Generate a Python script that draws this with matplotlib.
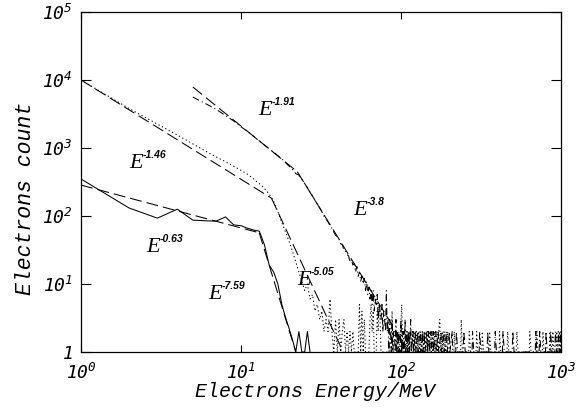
import matplotlib
matplotlib.use("Agg")
import matplotlib.pyplot as plt
from matplotlib.ticker import NullLocator

# --- low energy spectrum (solid) ---
solid_e = [1, 2, 3, 4, 5, 6, 7, 8, 9, 10, 11, 12, 13, 14, 15, 16, 17, 18, 19, 20,
           21, 22, 23, 24, 25, 26, 27]
solid_c = [350, 131, 93, 126, 87, 85, 84, 97, 74, 72, 66, 62, 60, 38, 19, 15, 10, 5, 3.2, 2.2,
           1.5, 1, 2, 1, 1, 2, 1]

# --- middle spectrum (dotted) ---
dotted_e = list(range(1, 61))
dotted_c = [10000, 3800, 2250, 1550, 1150, 900, 740, 630, 540, 470,
            410, 350, 300, 255, 210, 165, 115, 80, 58, 42,
            30, 21, 15, 11, 8, 10, 6, 7, 4, 5,
            3, 4, 2, 3, 2, 6, 2, 1, 3, 1,
            3, 1, 2, 3, 1, 2, 1, 2, 1, 2,
            1, 1, 1, 1, 5, 1, 4, 1, 3, 1]
dotted_tail_e = [61, 63, 64, 65, 66, 67, 68, 70, 71, 72, 73, 74, 75,
                 85, 87, 88, 89, 98, 100, 101, 102, 103,
                 108, 109, 110, 111, 112, 114, 115, 116, 118, 119, 121, 122,
                 125, 126, 128, 129, 130, 133, 134, 137, 138, 141, 142, 143,
                 146, 147, 151, 152, 156, 157, 158, 162, 163, 168, 169,
                 174, 175, 176, 181, 182, 188, 189, 196, 197,
                 214, 215, 219, 236, 238, 242, 265, 267, 272, 295, 297, 302,
                 320, 322, 328, 355, 358, 364, 410, 413, 420, 460, 464, 472,
                 525, 530, 539, 633, 639, 650, 700, 706, 718, 765, 771, 784,
                 845, 851, 866, 883, 889, 904, 935, 941, 957, 972, 979, 995, 1000]
dotted_tail_c = [1, 1, 3, 5, 2, 4, 1, 1, 4, 2, 5, 3, 1,
                 1, 2, 4, 1, 1, 3, 5, 2, 1,
                 1, 2, 1, 2, 1, 2, 2, 1, 2, 1, 2, 1,
                 2, 1, 2, 2, 1, 2, 1, 2, 1, 2, 2, 1,
                 2, 1, 2, 1, 2, 2, 1, 2, 1, 2, 1,
                 3, 3, 1, 2, 1, 2, 1, 2, 1,
                 1, 2, 1, 1, 3, 1, 1, 2, 1, 1, 2, 1,
                 1, 2, 1, 1, 2, 1, 1, 2, 1, 1, 2, 1,
                 1, 2, 1, 1, 2, 1, 1, 2, 1, 1, 2, 1,
                 1, 2, 1, 1, 2, 1, 1, 2, 1, 1, 2, 1, 1]

# --- high energy spectrum (dash-dot) ---
dashdot_e = list(range(5, 103))
dashdot_c = [5600, 4500, 3700, 3000, 2500, 2050, 1750, 1480, 1270, 1110,
             980, 870, 770, 690, 610, 540, 480, 420, 400, 345,
             300, 262, 225, 196, 170, 150, 132, 116, 100, 90,
             82, 72, 66, 58, 52, 50, 46, 39, 38, 31,
             30, 27, 26, 21, 23, 19, 20, 15, 18, 13,
             15, 11, 13, 10, 12, 8, 11, 7, 9, 6,
             8, 5, 8, 4, 6, 5, 7, 3, 5, 4,
             3, 5, 2, 4, 3, 2, 8, 2, 3, 1,
             3, 2, 1, 3, 1, 2, 2, 1, 3, 1,
             2, 1, 2, 1, 1, 3, 1, 2]
dashdot_tail_e = [103, 104, 105, 106, 107, 109, 110, 112, 113, 115, 116, 119, 120,
                  123, 124, 127, 128, 131, 132, 133, 136, 137, 140, 141, 145, 146,
                  149, 150, 154, 155, 159, 160, 165, 166, 171, 172, 178, 179,
                  185, 186, 193, 194, 201, 202, 209, 210,
                  220, 222, 226, 245, 247, 252, 278, 280, 285, 308, 310, 316,
                  345, 348, 354, 385, 388, 395, 430, 434, 442, 495, 500, 509,
                  690, 696, 706, 730, 736, 748, 800, 806, 820, 855, 862, 877,
                  915, 922, 938, 955, 962, 978, 985, 992, 1000]
dashdot_tail_c = [1, 2, 1, 3, 1, 2, 1, 2, 1, 3, 1, 2, 1,
                  2, 1, 2, 1, 2, 2, 1, 2, 1, 2, 1, 2, 1,
                  2, 1, 2, 1, 2, 1, 2, 1, 2, 1, 2, 1,
                  2, 1, 2, 1, 2, 1, 2, 1,
                  1, 2, 1, 1, 2, 1, 1, 2, 1, 1, 2, 1,
                  1, 2, 1, 1, 2, 1, 1, 2, 1, 1, 2, 1,
                  1, 2, 1, 1, 2, 1, 1, 2, 1, 1, 2, 1,
                  1, 2, 1, 1, 2, 1, 1, 2, 1]

# --- power law fits (end points of each segment) ---
fit_segments = [
    ([1, 13], [285, 56.6]),       # E^-0.63
    ([13, 22], [56.6, 1.0]),      # E^-7.59
    ([1, 15.5], [10000, 183]),    # E^-1.46
    ([15.5, 43.5], [183, 1.0]),   # E^-5.05
    ([5, 22.5], [7890, 447]),     # E^-1.91
    ([22.5, 112], [447, 1.0]),    # E^-3.8
]

# labels: exponent, axes-fraction position of the "E"
label_text = ["-1.91", "-1.46", "-0.63", "-7.59", "-5.05", "-3.8"]
label_x = [0.369, 0.100, 0.135, 0.265, 0.450, 0.567]
label_y = [0.697, 0.541, 0.294, 0.156, 0.197, 0.403]

x_ticks = [1, 10, 100, 1000]
x_tick_labels = [r"$10^{0}$", r"$10^{1}$", r"$10^{2}$", r"$10^{3}$"]
y_ticks = [1, 10, 100, 1000, 10000, 100000]
y_tick_labels = [r"$1$", r"$10^{1}$", r"$10^{2}$", r"$10^{3}$", r"$10^{4}$", r"$10^{5}$"]

plt.rcParams["lines.scale_dashes"] = False
plt.rcParams["mathtext.fontset"] = "custom"
plt.rcParams["mathtext.rm"] = "DejaVu Sans Mono:italic"
plt.rcParams["mathtext.it"] = "DejaVu Sans Mono:italic"

fig = plt.figure(figsize=(5.78, 4.11), dpi=100)
ax = fig.add_axes([81 / 578, 59 / 411, 480 / 578, 340 / 411])
ax.set_xscale("log")
ax.set_yscale("log")

lw = 0.75
ax.plot(solid_e, solid_c, color="black", lw=lw)
ax.plot(dotted_e + dotted_tail_e, dotted_c + dotted_tail_c, color="black", lw=lw,
        linestyle=(0, (0.9, 1.9)))
ax.plot(dashdot_e + dashdot_tail_e, dashdot_c + dashdot_tail_c, color="black", lw=lw,
        linestyle=(0, (5, 2.2, 0.8, 2.2)))
for fe, fc in fit_segments:
    ax.plot(fe, fc, color="black", lw=lw, linestyle=(0, (8.6, 3.6)))

for txt, lx, ly in zip(label_text, label_x, label_y):
    ax.text(lx, ly, "E", transform=ax.transAxes, fontsize=16,
            family="Liberation Serif", style="italic", ha="left", va="baseline")
    ax.annotate(txt, xy=(lx, ly), xycoords="axes fraction", xytext=(10, 13),
                textcoords="offset points", fontsize=7.5, family="Liberation Sans",
                weight="bold", style="italic", ha="left", va="top")

ax.set_xlim(1, 1000)
ax.set_ylim(1, 100000)
ax.set_xticks(x_ticks)
ax.set_xticklabels(x_tick_labels, fontsize=13)
ax.set_yticks(y_ticks)
ax.set_yticklabels(y_tick_labels, fontsize=13)
ax.xaxis.set_minor_locator(NullLocator())
ax.yaxis.set_minor_locator(NullLocator())
ax.tick_params(axis="x", direction="in", top=True, length=4.9, width=0.8, pad=7.5)
ax.tick_params(axis="y", direction="in", right=True, length=6.9, width=0.8, pad=6)
for sp in ax.spines.values():
    sp.set_linewidth(0.9)

ax.set_xlabel("Electrons Energy/MeV", family="Liberation Mono", style="italic",
              fontsize=14.4)
ax.set_ylabel("Electrons count", family="Liberation Mono", style="italic",
              fontsize=15.5)
ax.xaxis.set_label_coords(0.4875, -0.088)
ax.yaxis.set_label_coords(-0.094, 0.453)

fig.savefig("out.png", dpi=100)
